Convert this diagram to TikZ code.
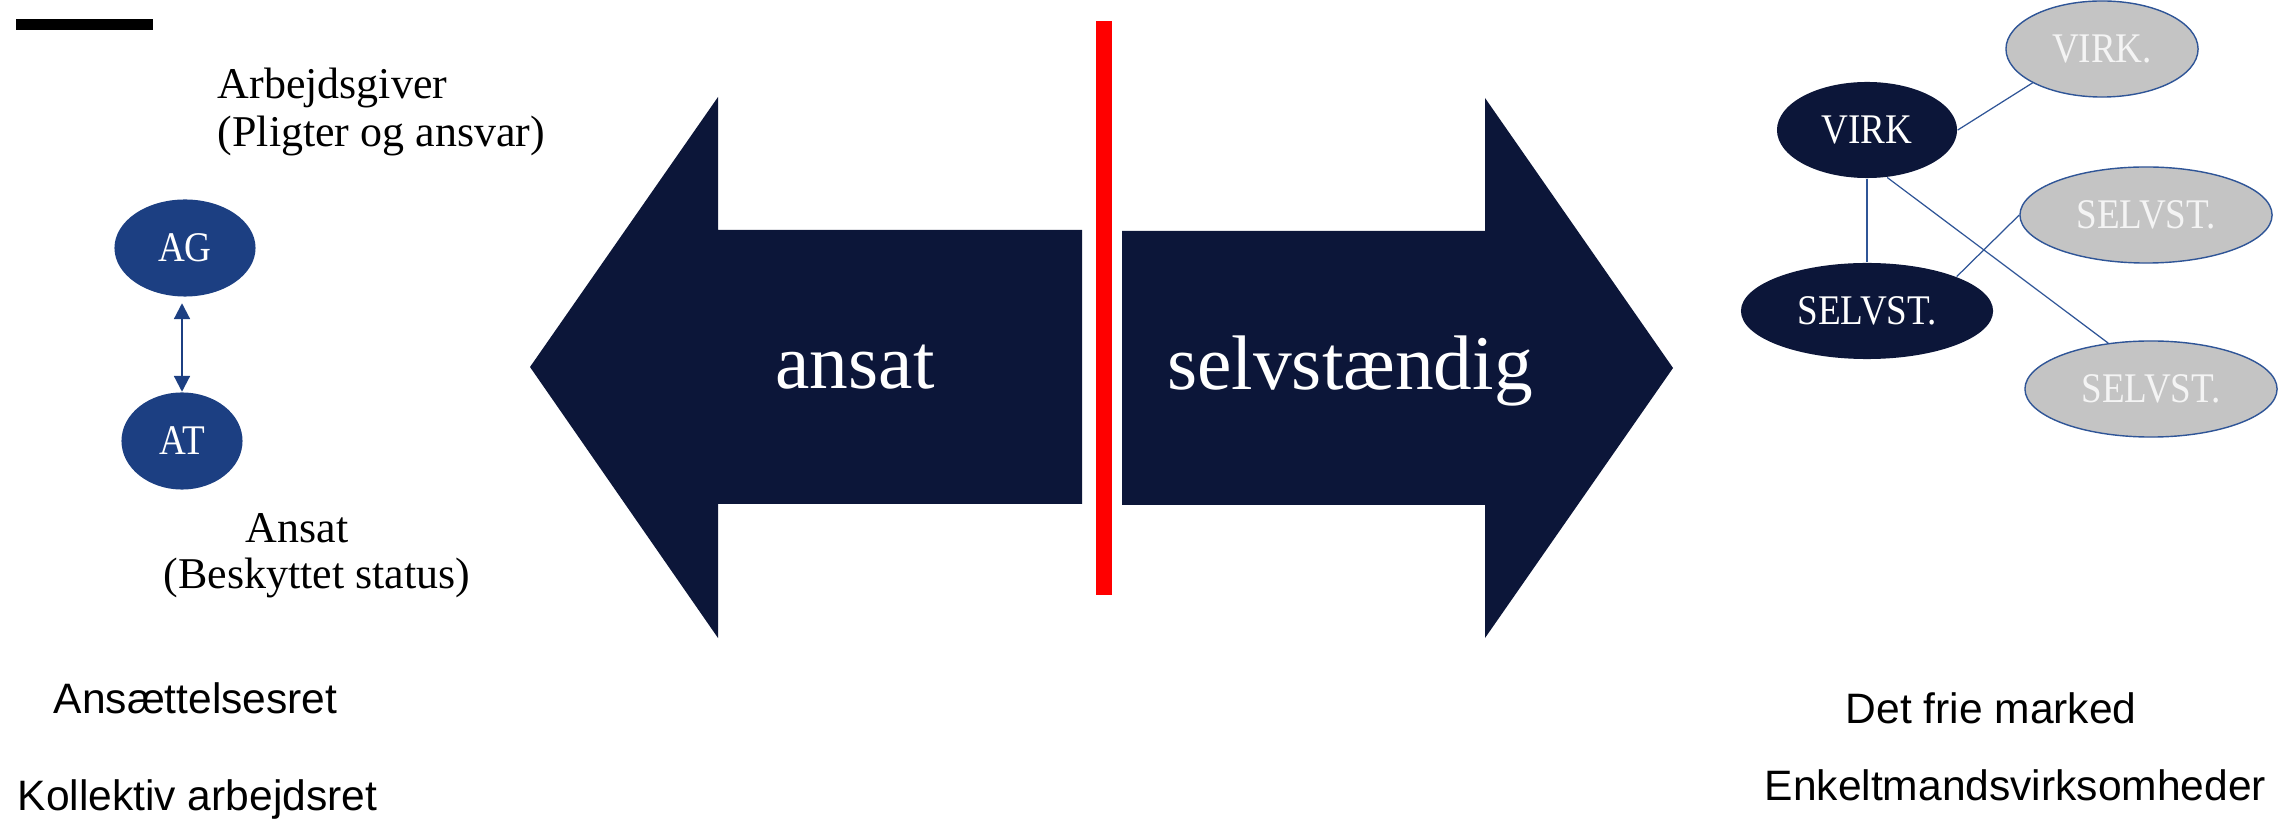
\documentclass[tikz,border=0pt]{standalone}
\usepackage{fontspec}
\setmainfont{Liberation Serif}
\newfontfamily\nodefont[FakeStretch=0.88]{Liberation Serif}
\newfontfamily\lawfont{Liberation Sans}
\usetikzlibrary{arrows.meta,shapes.geometric}

\definecolor{navy}{HTML}{0C1639}
\definecolor{agblue}{HTML}{1C3F82}
\definecolor{edgeblue}{HTML}{2F5597}
\definecolor{greyfill}{HTML}{C4C4C4}
\definecolor{greytext}{HTML}{F4F4F4}

\begin{document}
\begin{tikzpicture}[x=0.01cm,y=-0.01cm,
    party/.style={ellipse,fill=agblue,text=white,inner sep=0pt,minimum height=0.97cm,font=\nodefont\fontsize{12}{14}\selectfont},
    firm/.style={ellipse,fill=navy,text=white,inner sep=0pt,minimum height=0.96cm,font=\nodefont\fontsize{12}{14}\selectfont},
    other/.style={ellipse,draw=edgeblue,line width=0.4pt,fill=greyfill,text=greytext,inner sep=0pt,minimum height=0.96cm,font=\nodefont\fontsize{12}{14}\selectfont},
    lbl/.style={anchor=base west,inner sep=0pt,font=\fontsize{12.5}{15}\selectfont},
    law/.style={anchor=base west,inner sep=0pt,font=\lawfont\fontsize{12.1}{14}\selectfont},
    big/.style={anchor=base,inner sep=0pt,text=white,font=\fontsize{22}{26}\selectfont},
    link/.style={draw=edgeblue,line width=0.35pt},
    arr/.style={{Triangle[length=4.5pt,width=4.5pt]}-{Triangle[length=4.5pt,width=4.5pt]},line width=0.6pt,draw=agblue}
]
\useasboundingbox (0,0) rectangle (2292,822);

% bar top left
\fill (16,19) rectangle (153,30);

% big arrows and the line between them
\fill[navy] (1082,230) -- (718,230) -- (718,97) -- (530,367) -- (718,638) -- (718,504) -- (1082,504) -- cycle;
\fill[navy] (1122,231) -- (1485,231) -- (1485,98) -- (1673,368) -- (1485,638) -- (1485,505) -- (1122,505) -- cycle;
\fill[red] (1096,21) rectangle (1112,595);
\node[big] (ansat) at (855,389) {ansat};
\node[big] (selvst) at (1350,390) {selvstændig};

% employment relation
\node[lbl] (agtxt) at (217,99) {Arbejdsgiver};
\node[lbl] (agtxt2) at (217,147) {(Pligter og ansvar)};
\node[party,minimum width=1.41cm] (ag) at (185,248) {AG};
\node[party,minimum width=1.21cm] (at) at (182,441) {AT};
\node[lbl] (attxt) at (245,542) {Ansat};
\node[lbl] (attxt2) at (163,588) {(Beskyttet status)};
\draw[arr,shorten <=0.06cm] (ag.south -| at.north) -- (at.north);

% free market
\node[firm,minimum width=1.80cm] (virk) at (1867,130) {VIRK};
\node[firm,minimum width=2.52cm] (selv) at (1867,311) {SELVST.};
\node[other,minimum width=1.92cm] (virkg) at (2102,49) {VIRK.};
\node[other,minimum width=2.52cm] (selvg1) at (2146,215) {SELVST.};
\node[other,minimum width=2.52cm] (selvg2) at (2151,389) {SELVST.};
\draw[link] (virk.east) -- (virkg.206);
\draw[link] (virk) -- (selv);
\draw[link] (virk.293) -- (selvg2.133);
\draw[link] (selv.21) -- (selvg1.west);

% areas of law
\node[law] (ansret) at (53,713) {Ansættelsesret};
\node[law] (kollret) at (17,810) {Kollektiv arbejdsret};
\node[law] (marked) at (1845,723) {Det frie marked};
\node[law] (enkelt) at (1764,800) {Enkeltmandsvirksomheder};
\end{tikzpicture}
\end{document}
